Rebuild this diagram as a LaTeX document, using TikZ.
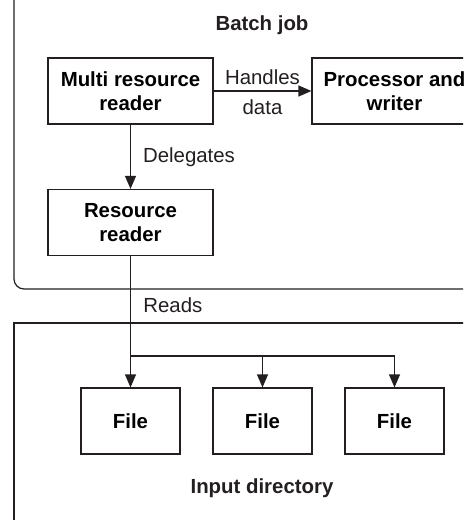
\documentclass[tikz,border=0pt]{standalone}
\usepackage{fontspec}
\setmainfont{Liberation Sans}
\usetikzlibrary{arrows.meta,positioning}
\definecolor{ink}{HTML}{231F20}

\begin{document}
\begin{tikzpicture}[
  x=0.5pt, y=-0.5pt,
  font=\fontsize{10.2}{12}\selectfont,
  box/.style={draw=ink, fill=white, line width=.6pt, align=center,
              font=\fontsize{10.2}{12}\selectfont\bfseries, inner sep=2pt,
              minimum width=#1, minimum height=33pt},
  box/.default=82.5pt,
  filebox/.style={box=49.5pt},
  frame/.style={draw=ink, line width=.6pt},
  hdr/.style={font=\fontsize{10.2}{12}\selectfont\bfseries, text=ink},
  lbl/.style={text=ink, inner sep=1pt},
  ar/.style={-{Triangle[length=6.5pt,width=5.5pt]}, draw=ink, line width=.6pt},
]
\useasboundingbox (0,0) rectangle (471,520);
\clip (0,0) rectangle (463,520);

%% ================= batch job =================
\draw[frame, rounded corners=5pt] (14,-30) -- (14,289) -- (500,289);
\node[hdr] (batch) at (262,25) {Batch job};

\node[box] (multi) at (130.5,91) {Multi resource\\reader};
\node[box] (proc) at (394.5,91) {Processor and\\writer};
\node[box] (res) at (130.5,222.5) {Resource\\reader};

\draw[ar] (multi) -- node[lbl, above=2pt] {Handles} node[lbl, below=3pt] {data} (proc);
\draw[ar] (multi) -- node[lbl, right=5pt] {Delegates} (res);

%% ================= input directory =================
\draw[frame] (500,323) -- (14,323) -- (14,540);
\node[hdr] (input) at (262,488) {Input directory};

\node[filebox] (f1) at (130.5,421) {File};
\node[filebox] (f2) at (262.5,421) {File};
\node[filebox] (f3) at (394.5,421) {File};

\coordinate (split) at (130.5,356);
\draw[ar] (res) -- (f1);
\foreach \f in {f2,f3}
  \draw[ar] (split) -| (\f);
\node[lbl, anchor=west] (reads) at (141,305) {Reads};

\end{tikzpicture}
\end{document}
